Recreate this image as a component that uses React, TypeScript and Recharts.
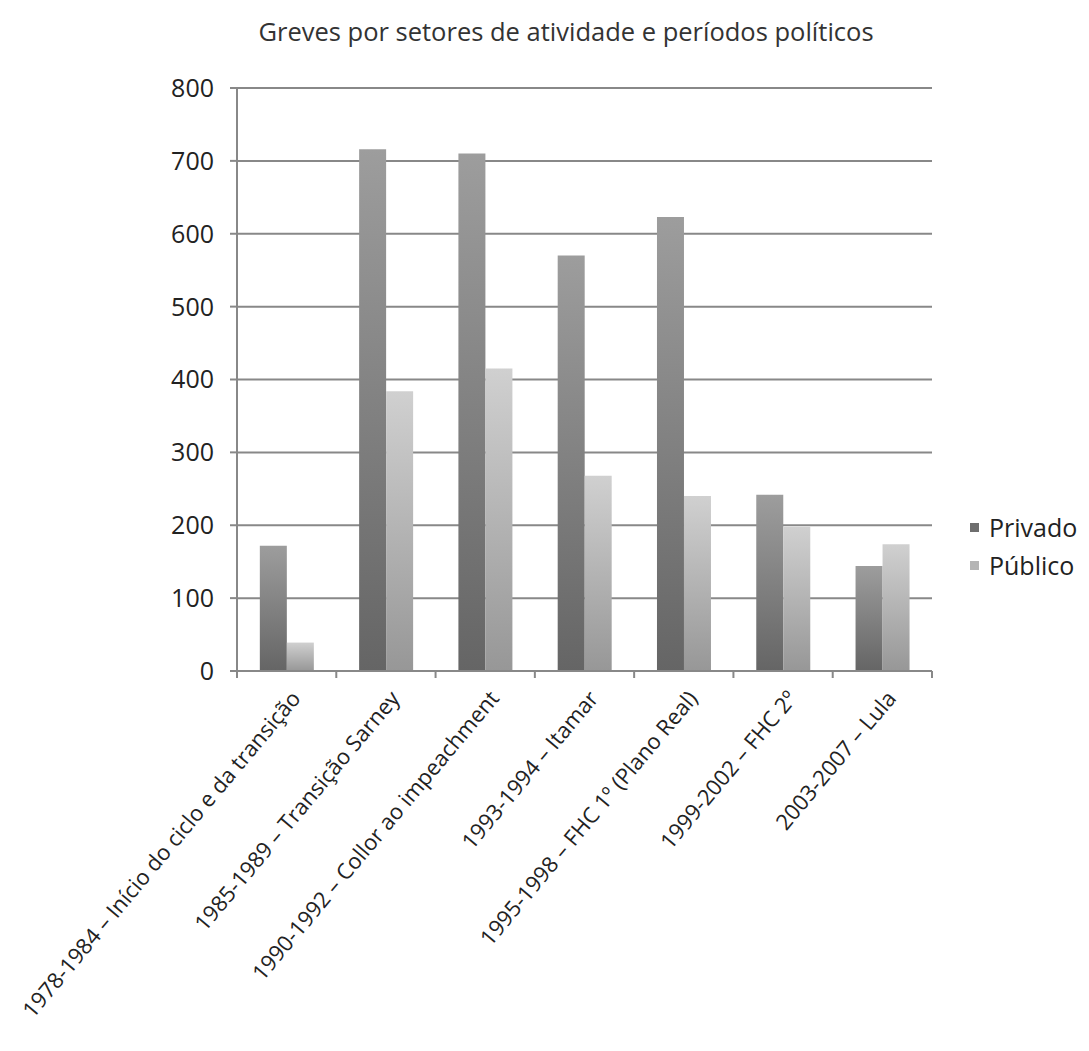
import { BarChart, Bar, XAxis, YAxis, CartesianGrid } from 'recharts'

const periods = [
  '1978-1984 – Início do ciclo e da transição',
  '1985-1989 – Transição Sarney',
  '1990-1992 – Collor ao impeachment',
  '1993-1994 – Itamar',
  '1995-1998 – FHC 1º (Plano Real)',
  '1999-2002 – FHC 2º',
  '2003-2007 – Lula',
]
const privado = [172, 716, 710, 570, 623, 242, 144]
const publico = [39, 384, 415, 268, 240, 198, 174]
const yTicks = [0, 100, 200, 300, 400, 500, 600, 700, 800]
const seriesNames = ['Privado', 'Público']
const seriesColors = ['#6e6e6e', '#b4b4b4']

const data = periods.map((p, i) => ({ period: p, Privado: privado[i], 'Público': publico[i] }))

const W = 1081
const H = 1035
const margin = { top: 80, right: 157, bottom: 12, left: 169 }
const yAxisW = 60
const plotW = W - margin.left - margin.right - yAxisW
const band = plotW / periods.length
const FONT = '"Open Sans", "DejaVu Sans", sans-serif'

function PeriodTick(props: any) {
  const { x, y, payload, index } = props
  const axisY = y - 8
  const last = index === periods.length - 1
  const tx = x + 15
  const ty = axisY + 28
  return (
    <g>
      <line x1={x - band / 2} y1={axisY} x2={x - band / 2} y2={axisY + 7} stroke="#888" strokeWidth={2} />
      {last && <line x1={x + band / 2} y1={axisY} x2={x + band / 2} y2={axisY + 7} stroke="#888" strokeWidth={2} />}
      <text
        x={tx}
        y={ty}
        transform={`rotate(-50, ${tx}, ${ty})`}
        textAnchor="end"
        fontSize={22}
        fontFamily={FONT}
        fill="#222"
      >
        {payload.value}
      </text>
    </g>
  )
}

export default function App() {
  return (
    <div style={{ position: 'relative', width: W, height: H }}>
      <div
        style={{
          position: 'absolute',
          top: 6,
          left: 0,
          width: 1116,
          textAlign: 'center',
          fontFamily: FONT,
          fontSize: 25.5,
          color: '#333',
        }}
      >
        Greves por setores de atividade e períodos políticos
      </div>
      <div
        style={{
          position: 'absolute',
          left: 962,
          top: 500,
          fontFamily: FONT,
          fontSize: 25,
          color: '#222',
        }}
      >
        {seriesNames.map((name, i) => (
          <div key={name} style={{ display: 'flex', alignItems: 'center', height: 38 }}>
            <span style={{ width: 9, height: 9, background: seriesColors[i], marginRight: 10 }} />
            <span>{name}</span>
          </div>
        ))}
      </div>
      <BarChart width={W} height={H} data={data} margin={margin} barCategoryGap="23%" barGap={0}>
        <defs>
          <linearGradient id="gPriv" x1="0" y1="0" x2="0" y2="1">
            <stop offset="0%" stopColor="#9d9d9d" />
            <stop offset="100%" stopColor="#656565" />
          </linearGradient>
          <linearGradient id="gPub" x1="0" y1="0" x2="0" y2="1">
            <stop offset="0%" stopColor="#d0d0d0" />
            <stop offset="100%" stopColor="#979797" />
          </linearGradient>
        </defs>
        <CartesianGrid vertical={false} stroke="#888" strokeWidth={2} />
        <XAxis
          dataKey="period"
          interval={0}
          height={360}
          tickLine={false}
          axisLine={{ stroke: '#888', strokeWidth: 2 }}
          tick={<PeriodTick />}
        />
        <YAxis
          width={yAxisW}
          domain={[0, 800]}
          ticks={yTicks}
          tickSize={7}
          tickMargin={16}
          axisLine={{ stroke: '#888', strokeWidth: 2 }}
          tickLine={{ stroke: '#888', strokeWidth: 2 }}
          tick={{ fontSize: 25, fontFamily: FONT, fill: '#222' }}
        />
        <Bar dataKey="Privado" fill="url(#gPriv)" isAnimationActive={false} />
        <Bar dataKey="Público" fill="url(#gPub)" isAnimationActive={false} />
      </BarChart>
    </div>
  )
}
